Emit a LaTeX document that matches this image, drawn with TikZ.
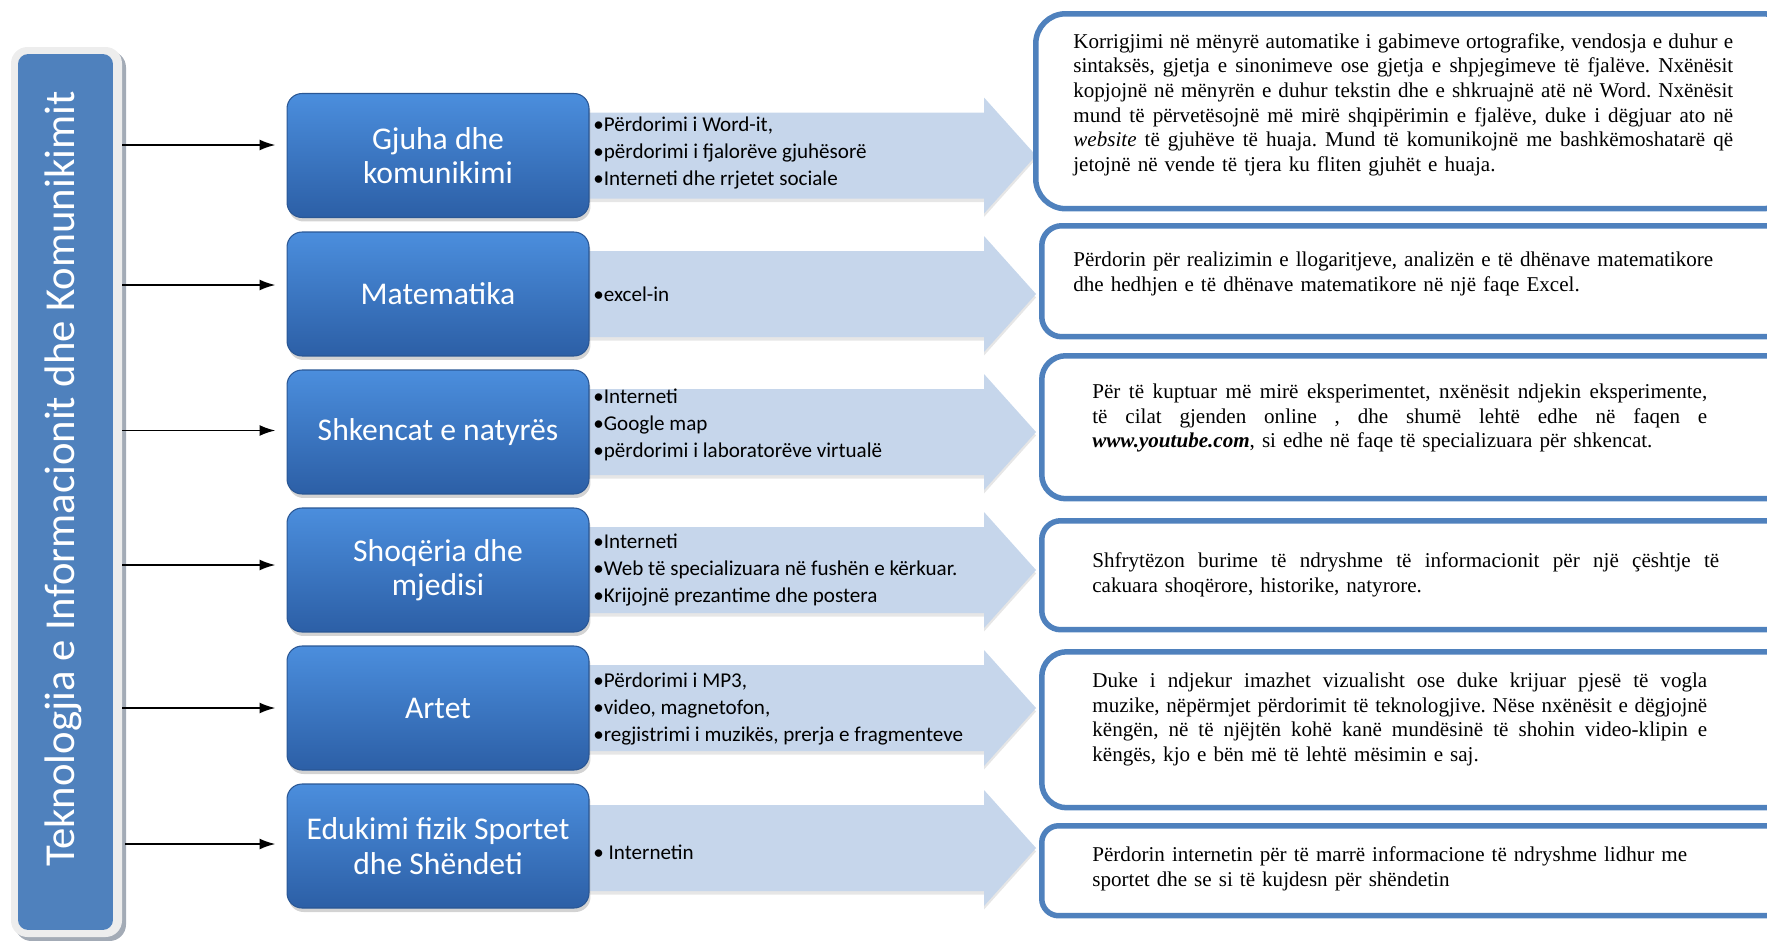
\documentclass[tikz,border=0pt]{standalone}
\usepackage{fontspec}
\setmainfont{Liberation Serif}
\newfontfamily\calibri{Carlito}
\usetikzlibrary{arrows.meta,shadows}
\frenchspacing

\definecolor{titleblue}{HTML}{4F81BD}
\definecolor{framegray}{HTML}{EDEDED}
\definecolor{frameshade}{HTML}{A3ABB6}
\definecolor{boxtop}{HTML}{4B8EDD}
\definecolor{boxbot}{HTML}{2C5FA6}
\definecolor{boxedge}{HTML}{2A5795}
\definecolor{flowblue}{HTML}{C6D6EB}
\definecolor{lineblue}{HTML}{4F81BD}

\tikzset{
  link/.style={-{Latex[length=0.32cm,width=0.22cm]}, line width=1.1pt,
    shorten <=0.18cm, shorten >=0.22cm},
  subject/.style={rounded corners=0.3cm, draw=boxedge, line width=0.6pt,
    top color=boxtop, bottom color=boxbot, text=white, align=center,
    font=\calibri\fontsize{18}{19.5}\selectfont,
    minimum width=6.04cm, minimum height=2.48cm,
    drop shadow={shadow xshift=0.03cm, shadow yshift=-0.08cm, opacity=0.35}},
  uses/.style={font=\calibri\fontsize{12}{15.3}\selectfont, align=left,
    anchor=west, inner sep=0pt},
  flow/.style={fill=flowblue,
    drop shadow={shadow xshift=0cm, shadow yshift=-0.07cm, opacity=0.2}},
  infobox/.style={draw=lineblue, line width=0.11cm, fill=white,
    inner sep=0pt, anchor=north west},
  infotext/.style={font=\fontsize{12}{13.95}\selectfont, inner sep=0pt,
    anchor=west, align=left}
}
% one justified line of a given width
\newcommand{\jl}[2]{\leavevmode\hbox to #1{\spaceskip=0.25em plus 3em minus 0.08em\relax #2}}

\begin{document}
\begin{tikzpicture}[x=0.02cm, y=-0.02cm]
	\useasboundingbox (0,0) rectangle (1767,940);
	
	% left title bar
	\fill[frameshade, rounded corners=0.33cm] (15,51) rectangle (126,941);
	\fill[framegray, rounded corners=0.33cm] (11,47) rectangle (122,937);
	\node[fill=titleblue, rounded corners=0.2cm, minimum width=1.9cm,
		minimum height=17.52cm] (lbox) at (65.5,492) {};
	\node[rotate=90, text=white, font=\calibri\fontsize{24.3}{28}\selectfont]
		(ltitle) at (63,479) {Teknologjia e Informacionit dhe Komunikimit};
	
	% light arrows behind the lists
	\fill[flow] (560,155.5) ++(0,-43) -- ++(424,0) -- ++(0,-15) -- ++(52,58)
		-- ++(-52,58) -- ++(0,-15) -- ++(-424,0) -- cycle;
	\fill[flow] (560,294) ++(0,-43) -- ++(424,0) -- ++(0,-15) -- ++(52,58)
		-- ++(-52,58) -- ++(0,-15) -- ++(-424,0) -- cycle;
	\fill[flow] (560,432) ++(0,-43) -- ++(424,0) -- ++(0,-15) -- ++(52,58)
		-- ++(-52,58) -- ++(0,-15) -- ++(-424,0) -- cycle;
	\fill[flow] (560,570) ++(0,-43) -- ++(424,0) -- ++(0,-15) -- ++(52,58)
		-- ++(-52,58) -- ++(0,-15) -- ++(-424,0) -- cycle;
	\fill[flow] (560,708) ++(0,-43) -- ++(424,0) -- ++(0,-15) -- ++(52,58)
		-- ++(-52,58) -- ++(0,-15) -- ++(-424,0) -- cycle;
	\fill[flow] (560,848) ++(0,-43) -- ++(424,0) -- ++(0,-15) -- ++(52,58)
		-- ++(-52,58) -- ++(0,-15) -- ++(-424,0) -- cycle;
	
	% subjects
	\node[subject] (b1) at (438,155.5) {Gjuha dhe\\komunikimi};
	\node[subject] (b2) at (438,294) {Matematika};
	\node[subject] (b3) at (438,432) {Shkencat e natyrës};
	\node[subject] (b4) at (438,570) {Shoqëria dhe\\mjedisi};
	\node[subject] (b5) at (438,708) {Artet};
	\node[subject] (b6) at (438,846) {Edukimi fizik Sportet\\dhe Shëndeti};
	
	\coordinate (a1) at ([yshift=0.21cm]b1.west);
	\coordinate (a2) at ([yshift=0.18cm]b2.west);
	\coordinate (a3) at ([yshift=0.03cm]b3.west);
	\coordinate (a4) at ([yshift=0.1cm]b4.west);
	\coordinate (a5) at (b5.west);
	\coordinate (a6) at ([yshift=0.04cm]b6.west);
	
	\draw[link] (lbox.east |- a1) -- (a1);
	\draw[link] (lbox.east |- a2) -- (a2);
	\draw[link] (lbox.east |- a3) -- (a3);
	\draw[link] (lbox.east |- a4) -- (a4);
	\draw[link] (lbox.east |- a5) -- (a5);
	\draw[link] ([xshift=0.06cm]lbox.east |- a6) -- (a6);
	
	% tools
	\node[uses] (u1) at (593,153) {•Përdorimi i Word-it,\\•përdorimi i fjalorëve gjuhësorë\\•Interneti dhe rrjetet sociale};
	\node[uses] (u2) at (593,294) {•excel-in};
	\node[uses] (u3) at (593,425) {•Interneti\\•Google map\\•përdorimi i laboratorëve virtualë};
	\node[uses] (u4) at (593,570) {•Interneti\\•Web të specializuara në fushën e kërkuar.\\•Krijojnë prezantime dhe postera};
	\node[uses] (u5) at (593,709) {•Përdorimi i MP3,\\•video, magnetofon,\\•regjistrimi i muzikës, prerja e fragmenteve};
	\node[uses] (u6) at (593,852) {• Internetin};
	
	% descriptions
	\node[infobox, minimum width=15.14cm, minimum height=3.9cm, rounded corners=0.6cm] (r1) at (1033,11) {};
	\node[infobox, minimum width=15.02cm, minimum height=2.22cm, rounded corners=0.4cm] (r2) at (1039,223) {};
	\node[infobox, minimum width=15.02cm, minimum height=2.86cm, rounded corners=0.48cm] (r3) at (1039,353) {};
	\node[infobox, minimum width=15.02cm, minimum height=2.18cm, rounded corners=0.38cm] (r4) at (1039,518) {};
	\node[infobox, minimum width=15.02cm, minimum height=3.12cm, rounded corners=0.5cm] (r5) at (1039,649) {};
	\node[infobox, minimum width=15.02cm, minimum height=1.8cm, rounded corners=0.34cm] (r6) at (1039,823) {};
	
	\node[infotext, text width=13.2cm] (t1) at (1073,104.6) {%
		\jl{13.2cm}{Korrigjimi në mënyrë automatike i gabimeve ortografike, vendosja e duhur e}\\
		\jl{13.2cm}{sintaksës, gjetja e sinonimeve ose gjetja e shpjegimeve të fjalëve. Nxënësit}\\
		\jl{13.2cm}{kopjojnë në mënyrën e duhur tekstin dhe e shkruajnë atë në Word. Nxënësit}\\
		\jl{13.2cm}{mund të përvetësojnë më mirë shqipërimin e fjalëve, duke i dëgjuar ato në}\\
		\jl{13.2cm}{\textit{website} të gjuhëve të huaja. Mund të komunikojnë me bashkëmoshatarë që}\\
		jetojnë në vende të tjera ku fliten gjuhët e huaja.};
	\node[infotext, text width=13.2cm] (t2) at (1073,274) {%
		Përdorin për realizimin e llogaritjeve, analizën e të dhënave matematikore\\
		dhe hedhjen e të dhënave matematikore në një faqe Excel.};
	\node[infotext, text width=12.3cm] (t3) at (1092,418) {%
		\jl{12.3cm}{Për të kuptuar më mirë eksperimentet, nxënësit ndjekin eksperimente,}\\
		\jl{12.3cm}{të cilat gjenden online , dhe shumë lehtë edhe në faqen e}\\
		\textbf{\textit{www.youtube.com}}, si edhe në faqe të specializuara për shkencat.};
	\node[infotext, text width=12.54cm] (t4) at (1092,575) {%
		\jl{12.54cm}{Shfrytëzon burime të ndryshme të informacionit për një çështje të}\\
		cakuara shoqërore, historike, natyrore.};
	\node[infotext, text width=12.3cm] (t5) at (1092,719.6) {%
		\jl{12.3cm}{Duke i ndjekur imazhet vizualisht ose duke krijuar pjesë të vogla}\\
		\jl{12.3cm}{muzike, nëpërmjet përdorimit të teknologjive. Nëse nxënësit e dëgjojnë}\\
		\jl{12.3cm}{këngën, në të njëjtën kohë kanë mundësinë të shohin video-klipin e}\\
		këngës, kjo e bën më të lehtë mësimin e saj.};
	\node[infotext, text width=13.2cm] (t6) at (1092,869) {%
		Përdorin internetin për të marrë informacione të ndryshme lidhur me\\
		sportet dhe se si të kujdesn për shëndetin};
\end{tikzpicture}
\end{document}
